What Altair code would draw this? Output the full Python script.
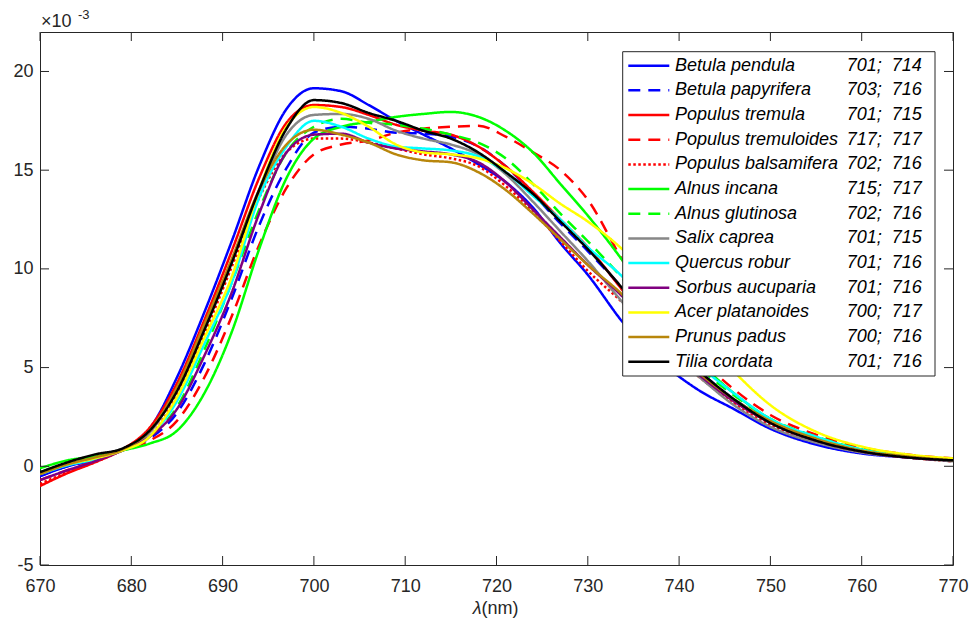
import altair as alt
import pandas as pd

# ---------------- data (values in units of 1e-3) ----------------
wavelength = [670, 673, 676, 679, 682, 685, 688, 691, 694, 697, 700, 703, 706, 709, 712,
              715, 718, 721, 724, 727, 730, 734, 738, 742, 746, 750, 755, 760, 765, 770]

species = ["Betula pendula", "Betula papyrifera", "Populus tremula", "Populus tremuloides",
           "Populus balsamifera", "Alnus incana", "Alnus glutinosa", "Salix caprea",
           "Quercus robur", "Sorbus aucuparia", "Acer platanoides", "Prunus padus", "Tilia cordata"]

peak_labels = ["701;\u00a0 714", "703;\u00a0 716", "701;\u00a0 715", "717;\u00a0 717",
               "702;\u00a0 716", "715;\u00a0 717", "702;\u00a0 716", "701;\u00a0 715",
               "701;\u00a0 716", "701;\u00a0 716", "700;\u00a0 717", "700;\u00a0 716", "701;\u00a0 716"]

betula_pendula = [-0.5, 0.0, 0.35, 0.85, 1.9, 4.5, 7.8, 11.4, 15.2, 18.1, 19.15, 19.0, 18.3, 17.5, 16.8,
                  16.1, 15.3, 14.4, 13.1, 11.3, 9.7, 7.2, 5.3, 3.9, 2.9, 1.9, 1.1, 0.65, 0.45, 0.3]
betula_papyrifera = [-0.5, 0.0, 0.3, 0.8, 1.4, 2.7, 5.2, 8.5, 12.2, 15.1, 16.9, 17.2, 17.1, 16.9, 16.85,
                     16.7, 16.2, 15.2, 13.8, 12.3, 10.9, 8.9, 6.6, 4.9, 3.4, 2.3, 1.4, 0.8, 0.5, 0.3]
populus_tremula = [-1.0, -0.35, 0.2, 0.85, 1.95, 4.2, 7.4, 10.9, 14.6, 17.4, 18.3, 18.2, 17.8, 17.3, 17.0,
                   16.8, 16.2, 15.2, 13.9, 12.5, 11.1, 8.8, 6.4, 4.7, 3.3, 2.2, 1.3, 0.75, 0.45, 0.3]
populus_tremuloides = [-0.7, -0.2, 0.25, 0.8, 1.3, 2.3, 4.5, 7.6, 11.2, 14.1, 15.8, 16.3, 16.5, 16.9, 17.1,
                       17.2, 17.25, 16.7, 15.9, 15.0, 13.5, 10.3, 7.8, 5.6, 3.9, 2.6, 1.6, 0.95, 0.6, 0.4]
populus_balsamifera = [-0.9, -0.3, 0.2, 0.8, 1.5, 3.6, 6.7, 10.1, 13.6, 15.9, 16.6, 16.6, 16.4, 16.1, 15.8,
                       15.6, 15.2, 14.2, 12.9, 11.4, 9.9, 8.2, 6.2, 4.6, 3.2, 2.1, 1.25, 0.75, 0.45, 0.25]
alnus_incana = [-0.1, 0.3, 0.5, 0.8, 1.15, 1.8, 3.7, 6.8, 11.0, 14.6, 16.6, 17.2, 17.45, 17.7, 17.85,
                17.95, 17.7, 17.0, 15.9, 14.3, 12.7, 10.3, 7.6, 5.4, 3.7, 2.4, 1.45, 0.85, 0.5, 0.3]
alnus_glutinosa = [-0.3, 0.15, 0.45, 0.8, 1.5, 3.0, 5.9, 9.3, 13.0, 15.9, 17.2, 17.6, 17.4, 17.3, 17.1,
                   16.8, 16.4, 15.6, 14.3, 12.8, 11.4, 9.4, 7.0, 5.1, 3.6, 2.4, 1.5, 0.85, 0.5, 0.3]
salix_caprea = [-0.4, 0.1, 0.4, 0.85, 1.7, 3.9, 7.0, 10.4, 13.9, 16.8, 17.8, 17.85, 17.6, 17.0, 16.6,
                16.3, 15.8, 14.8, 13.4, 11.9, 10.4, 8.2, 6.1, 4.6, 3.1, 2.0, 1.2, 0.7, 0.45, 0.25]
quercus_robur = [-0.4, 0.05, 0.35, 0.8, 1.5, 3.3, 6.2, 9.3, 13.6, 16.2, 17.5, 17.2, 16.6, 16.2, 16.1,
                 16.0, 15.7, 14.9, 13.7, 12.5, 11.1, 9.5, 7.1, 5.2, 3.7, 2.4, 1.5, 0.85, 0.5, 0.3]
sorbus_aucuparia = [-0.7, -0.2, 0.25, 0.8, 1.5, 2.9, 5.6, 8.8, 12.8, 15.9, 16.8, 16.85, 16.4, 16.1, 15.95,
                    15.8, 15.4, 14.4, 13.0, 11.6, 10.2, 8.5, 6.3, 4.7, 3.3, 2.2, 1.3, 0.75, 0.45, 0.3]
acer_platanoides = [-0.35, 0.1, 0.4, 0.8, 1.5, 3.5, 6.5, 9.6, 14.0, 17.2, 18.2, 17.9, 17.2, 16.3, 15.9,
                    15.8, 15.6, 15.1, 14.3, 13.3, 12.4, 10.9, 8.9, 6.8, 4.8, 3.1, 1.75, 1.0, 0.6, 0.4]
prunus_padus = [-0.4, 0.1, 0.45, 0.85, 1.8, 4.0, 7.2, 10.5, 14.0, 16.3, 17.05, 16.8, 16.4, 15.8, 15.5,
                15.4, 14.9, 14.0, 12.8, 11.5, 10.2, 8.6, 6.5, 4.8, 3.4, 2.3, 1.4, 0.8, 0.5, 0.3]
tilia_cordata = [-0.3, 0.2, 0.6, 0.9, 1.8, 3.8, 6.9, 10.3, 14.0, 17.1, 18.55, 18.4, 17.9, 17.5, 17.0,
                 16.6, 15.9, 14.9, 13.8, 12.4, 11.0, 8.9, 6.6, 4.9, 3.4, 2.2, 1.3, 0.75, 0.45, 0.3]

series = [betula_pendula, betula_papyrifera, populus_tremula, populus_tremuloides,
          populus_balsamifera, alnus_incana, alnus_glutinosa, salix_caprea, quercus_robur,
          sorbus_aucuparia, acer_platanoides, prunus_padus, tilia_cordata]

x_ticks = [670, 680, 690, 700, 710, 720, 730, 740, 750, 760, 770]
y_ticks = [-5, 0, 5, 10, 15, 20]

# ---------------- styling ----------------
colors = ["#0000ff", "#0000ff", "#ff0000", "#ff0000", "#ff0000", "#00ff00", "#00ff00",
          "#878787", "#00ffff", "#800080", "#ffff00", "#b8860b", "#000000"]
SOLID, DASH, DOT = [1, 0], [12, 8], [2.5, 2.5]
dash_styles = [SOLID, DASH, SOLID, DASH, DOT, SOLID, DASH, SOLID, SOLID, SOLID, SOLID, SOLID, SOLID]

FONT = "Liberation Sans"
AX = "#262626"
FS = 18
W, H = 913, 533
TICK = 9

xs = alt.Scale(domain=[670, 770], nice=False, zero=False)
ys = alt.Scale(domain=[-5, 22], nice=False, zero=False)
ax_x = alt.Axis(values=x_ticks, ticks=False, tickSize=0, domain=False, grid=False, title=None,
                labelFont=FONT, labelFontSize=FS, labelColor=AX, labelPadding=12,
                labelExpr="'' + datum.value", labelFlush=False, labelOverlap=False)
ax_y = alt.Axis(values=y_ticks, ticks=False, tickSize=0, domain=False, grid=False, title=None,
                labelFont=FONT, labelFontSize=FS, labelColor=AX, labelPadding=7,
                labelExpr="'' + datum.value", labelFlush=False, labelOverlap=False)


def X():
    return alt.X("x:Q", scale=xs, axis=ax_x)


def Y():
    return alt.Y("y:Q", scale=ys, axis=ax_y)


layers = []

# curves
for i, name in enumerate(species):
    df = pd.DataFrame({"x": wavelength, "y": series[i]})
    layers.append(
        alt.Chart(df).mark_line(color=colors[i], strokeWidth=2.5, strokeDash=dash_styles[i],
                                interpolate="monotone", clip=True)
        .encode(x=X(), y=Y())
    )

# inward ticks on all four sides
dfx = pd.DataFrame({"x": x_ticks})
dfy = pd.DataFrame({"y": y_ticks})
layers.append(alt.Chart(dfx).mark_rule(color=AX, strokeWidth=1)
              .encode(x=X(), y=alt.value(H), y2=alt.value(H - TICK)))
layers.append(alt.Chart(dfx).mark_rule(color=AX, strokeWidth=1)
              .encode(x=X(), y=alt.value(0), y2=alt.value(TICK)))
layers.append(alt.Chart(dfy).mark_rule(color=AX, strokeWidth=1)
              .encode(y=Y(), x=alt.value(0), x2=alt.value(TICK)))
layers.append(alt.Chart(dfy).mark_rule(color=AX, strokeWidth=1)
              .encode(y=Y(), x=alt.value(W), x2=alt.value(W - TICK)))

one = pd.DataFrame({"a": [0]})

# legend box
layers.append(alt.Chart(one).mark_rect(fill="white", stroke=AX, strokeWidth=1)
              .encode(x=alt.value(582.7), x2=alt.value(895), y=alt.value(19.7), y2=alt.value(344)))

row0, step = 33.7, 24.67
for i, name in enumerate(species):
    ry = row0 + i * step
    layers.append(alt.Chart(one).mark_rule(color=colors[i], strokeWidth=2.5, strokeDash=dash_styles[i])
                  .encode(x=alt.value(588.3), x2=alt.value(629.3), y=alt.value(ry)))
    layers.append(alt.Chart(one).mark_text(align="left", baseline="middle", font=FONT, fontSize=FS,
                                           fontStyle="italic", color="#000000")
                  .encode(x=alt.value(635), y=alt.value(ry), text=alt.value(name)))
    layers.append(alt.Chart(one).mark_text(align="left", baseline="middle", font=FONT, fontSize=FS,
                                           fontStyle="italic", color="#000000")
                  .encode(x=alt.value(806.7), y=alt.value(ry), text=alt.value(peak_labels[i])))

# exponent label  x10^-3
layers.append(alt.Chart(one).mark_text(align="left", baseline="middle", font=FONT, fontSize=FS, color=AX)
              .encode(x=alt.value(1), y=alt.value(-10.5), text=alt.value("\u00d710")))
layers.append(alt.Chart(one).mark_text(align="left", baseline="middle", font=FONT, fontSize=13, color=AX)
              .encode(x=alt.value(38), y=alt.value(-17), text=alt.value("-3")))

# x axis title  λ(nm)
layers.append(alt.Chart(one).mark_text(align="right", baseline="middle", font=FONT, fontSize=FS,
                                       fontStyle="italic", color=AX)
              .encode(x=alt.value(441.5), y=alt.value(576.5), text=alt.value("\u03bb")))
layers.append(alt.Chart(one).mark_text(align="left", baseline="middle", font=FONT, fontSize=FS, color=AX)
              .encode(x=alt.value(441.5), y=alt.value(576.5), text=alt.value("(nm)")))

chart = (
    alt.layer(*layers)
    .properties(width=W, height=H, autosize=alt.AutoSizeParams(type="none"),
                padding={"left": 40, "top": 32, "right": 23, "bottom": 61},
                background="white")
    .configure_view(stroke=AX, strokeWidth=1)
)

chart.save("out.html", embed_options={"renderer": "svg", "actions": False})
